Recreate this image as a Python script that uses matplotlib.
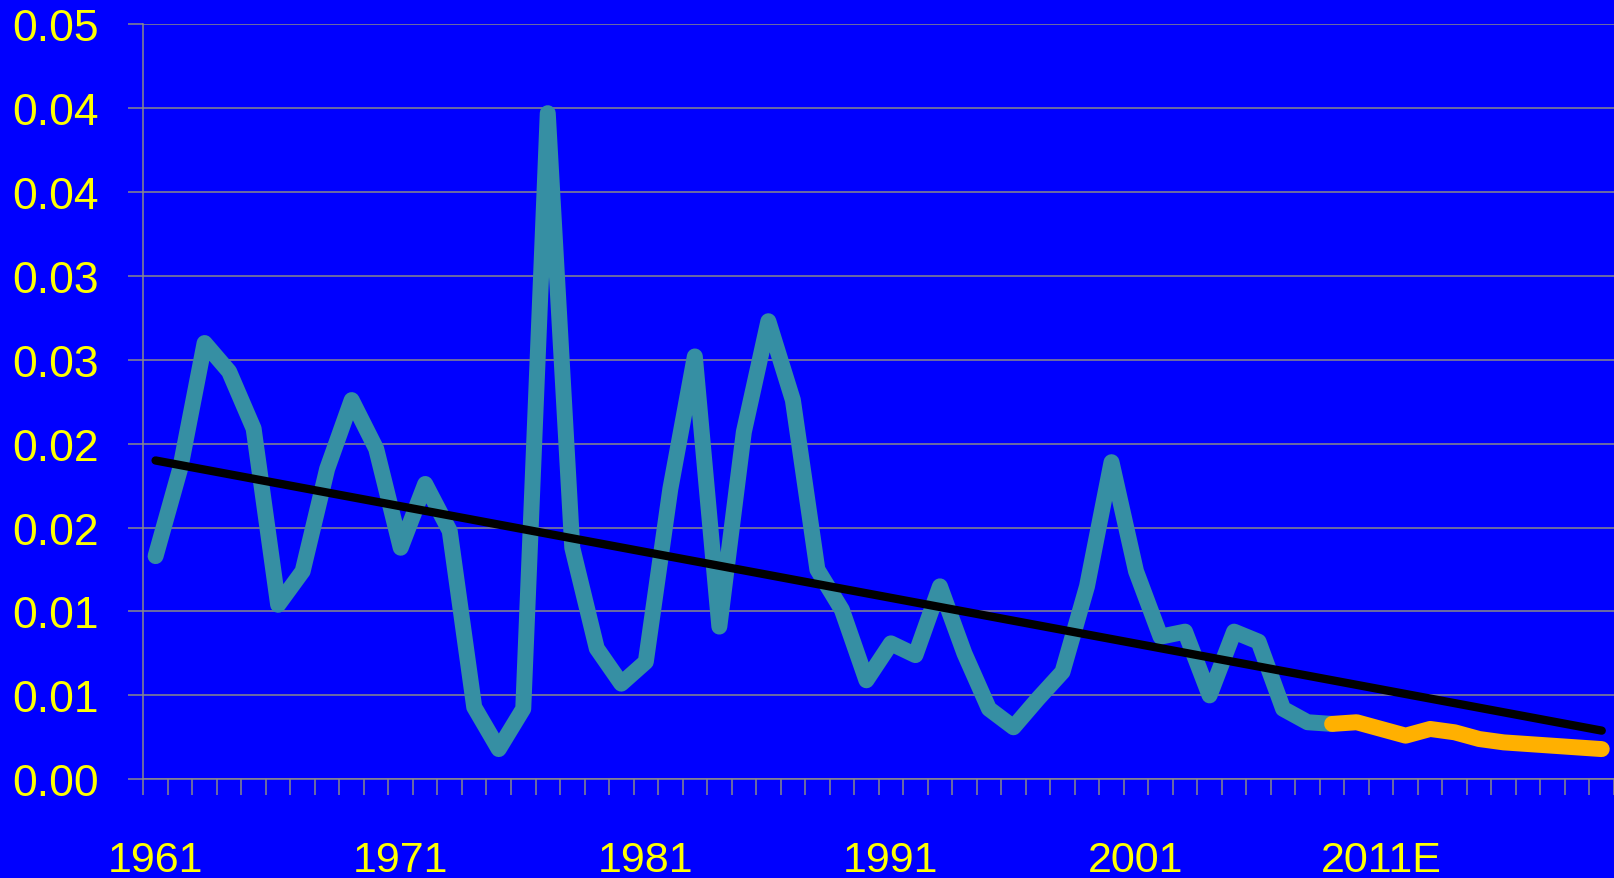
import numpy as np
import matplotlib
matplotlib.use('Agg')
import matplotlib.pyplot as plt
from matplotlib.ticker import FixedLocator

# data
years = list(range(1961, 2021))
actual = [0.0133, 0.0185, 0.0260, 0.0243, 0.0209, 0.0104, 0.0124, 0.0185, 0.0226, 0.0197,
          0.0138, 0.0176, 0.0148, 0.0043, 0.0018, 0.0042, 0.0397, 0.0138, 0.0078, 0.0057,
          0.0070, 0.0173, 0.0252, 0.0091, 0.0207, 0.0273, 0.0226, 0.0125, 0.0101, 0.0059,
          0.0081, 0.0074, 0.0115, 0.0075, 0.0042, 0.0031, 0.0048, 0.0064, 0.0115, 0.0189,
          0.0124, 0.0085, 0.0088, 0.0050, 0.0088, 0.0082, 0.0042, 0.0034, 0.0033]
forecast_years = list(range(2009, 2021))
forecast = [0.0033, 0.0034, 0.0030, 0.0026, 0.0030, 0.0028, 0.0024, 0.0022, 0.0021, 0.0020,
            0.0019, 0.0018]
trend_years = [1961, 2020]
trend = [0.0190, 0.0029]

ytick_vals = [0, 0.005, 0.01, 0.015, 0.02, 0.025, 0.03, 0.035, 0.04, 0.045]
ytick_labels = ['0.00', '0.01', '0.01', '0.02', '0.02', '0.03', '0.03', '0.04', '0.04', '0.05']
xlabel_years = [1961, 1971, 1981, 1991, 2001, 2011]
xlabel_text = ['1961', '1971', '1981', '1991', '2001', '2011E']

bg = '#0000FF'
grid_c = '#8A8A8A'
yellow = '#FFFF00'

plt.rcParams['font.family'] = ['Liberation Sans', 'DejaVu Sans']

fig = plt.figure(figsize=(16.14, 8.79), dpi=100, facecolor=bg)
ax = fig.add_axes([0.0888, 0.1123, 0.9112, 0.8590])
ax.set_facecolor(bg)

x0 = years[0]
xa = np.array(years[:len(actual)]) - x0
xf = np.array(forecast_years) - x0
xt = np.array(trend_years) - x0

ax.plot(xa, actual, color='#368FA3', lw=11.5, solid_joinstyle='round', solid_capstyle='round', zorder=3)
ax.plot(xf, forecast, color='#FFB000', lw=11.5, solid_joinstyle='round', solid_capstyle='round', zorder=4)
ax.plot(xt, trend, color='black', lw=6, solid_capstyle='round', zorder=5)

ax.set_xlim(-0.5, len(years) - 0.5)
ax.set_ylim(0, 0.045)

ax.set_yticks(ytick_vals)
ax.set_yticklabels(ytick_labels)
ax.yaxis.grid(True, color=grid_c, lw=1.1)
ax.set_axisbelow(True)

ax.set_xticks([y - x0 for y in xlabel_years])
ax.set_xticklabels(xlabel_text)
ax.xaxis.set_minor_locator(FixedLocator(np.arange(-0.5, len(years), 1.0)))

ax.tick_params(axis='y', colors=grid_c, labelcolor=yellow, labelsize=32, length=11, width=1.1, pad=21)
ax.tick_params(axis='x', which='major', labelcolor=yellow, labelsize=31, length=0, pad=44)
ax.tick_params(axis='x', which='minor', colors=grid_c, length=11.5, width=1.1)

for s in ['top', 'right']:
    ax.spines[s].set_visible(False)
for s in ['left', 'bottom']:
    ax.spines[s].set_color(grid_c)
    ax.spines[s].set_linewidth(1.1)

fig.savefig('out.png', dpi=100, facecolor=bg)
